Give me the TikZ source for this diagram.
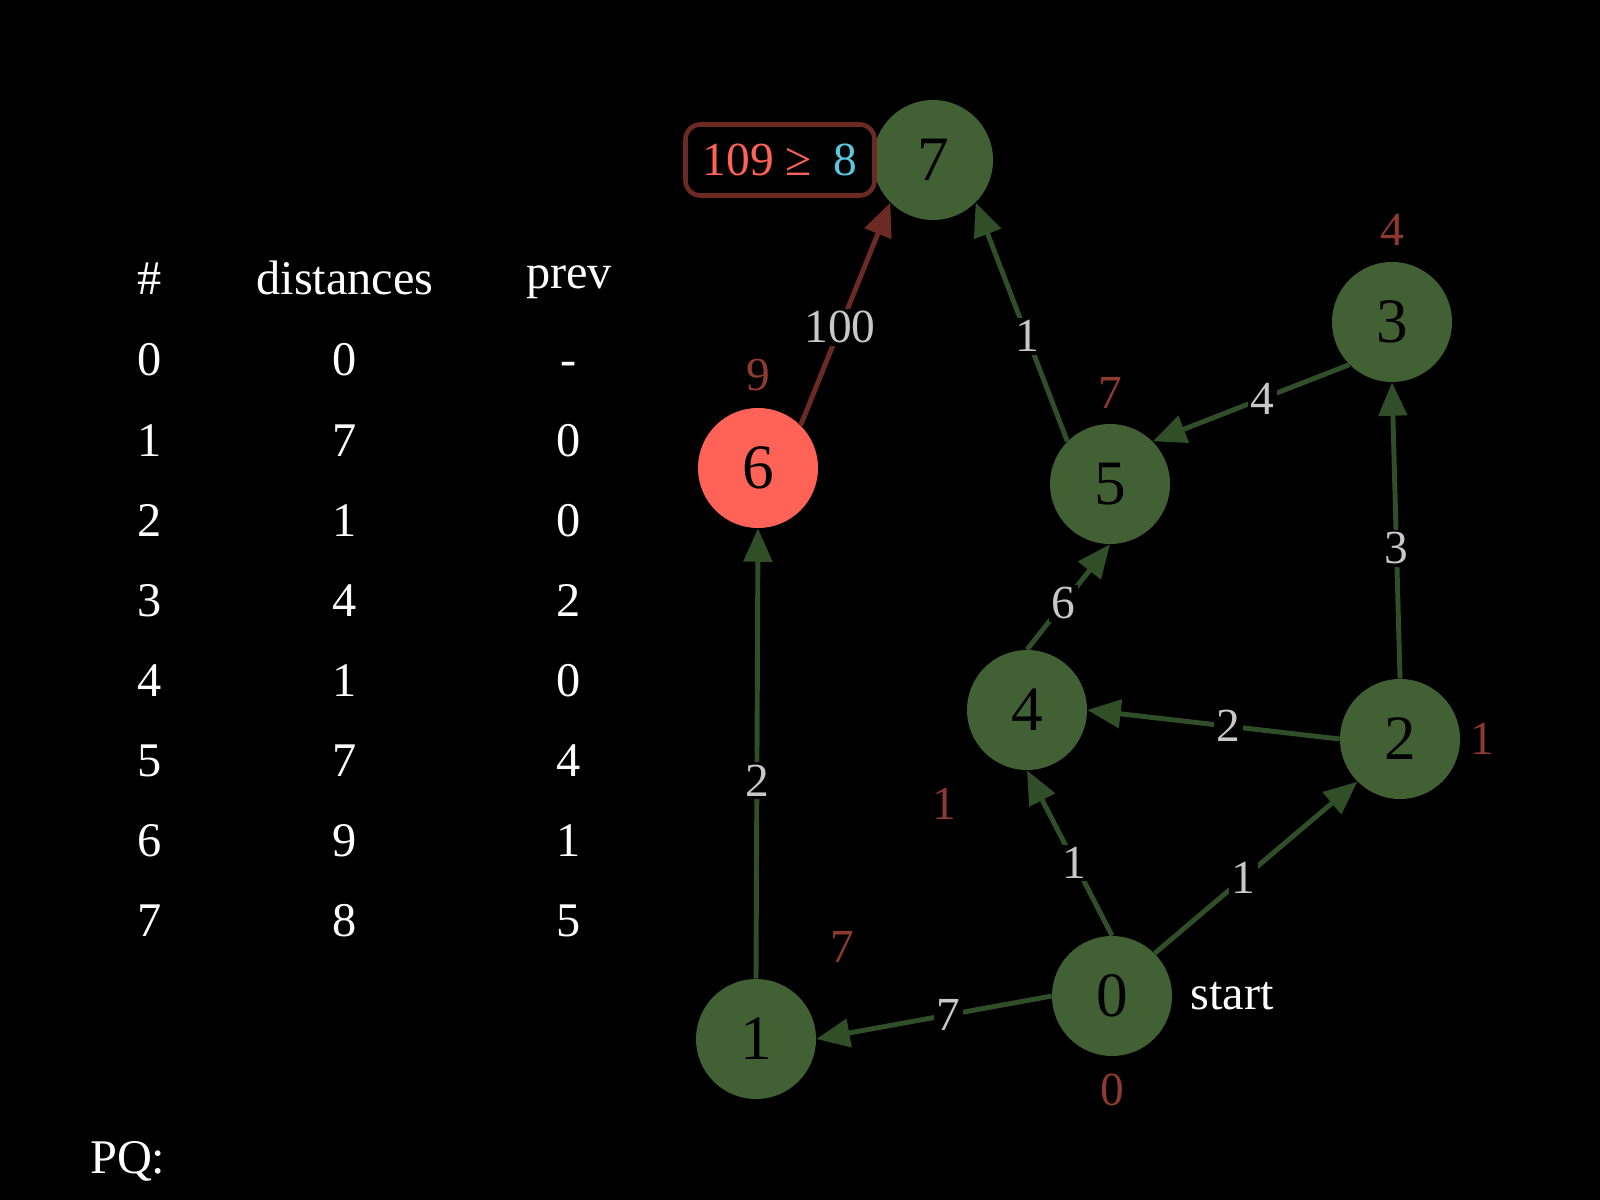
\documentclass[tikz,border=0pt]{standalone}
\usepackage{fontspec}
\setmainfont{Liberation Serif}
\usetikzlibrary{arrows.meta}
\definecolor{nodegreen}{RGB}{65,96,51}
\definecolor{edgegreen}{RGB}{48,78,40}
\definecolor{distred}{RGB}{142,58,48}
\definecolor{pathred}{RGB}{107,42,36}
\definecolor{hotred}{RGB}{255,99,87}
\definecolor{wgray}{RGB}{200,200,200}
\definecolor{newblue}{RGB}{90,200,225}

\begin{document}
\begin{tikzpicture}[x=0.2mm, y=-0.2mm,
    vertex/.style={circle, fill=nodegreen, minimum size=24mm, inner sep=0pt, font=\fontsize{36}{36}\selectfont},
    edge/.style={line width=2.8pt, edgegreen, -{Triangle[length=19pt,width=16pt]}},
    wlabel/.style={fill=black, text=wgray, inner sep=1.5pt, pos=0.44, font=\fontsize{27}{27}\selectfont},
    dist/.style={text=distred, font=\fontsize{27}{27}\selectfont},
    tab/.style={text=white, anchor=base, font=\fontsize{27.5}{27.5}\selectfont}]
    % Background
    \fill[black] (0,0) rectangle (1600,1200);
    \useasboundingbox (0,0) rectangle (1600,1200);

    % Table
    \node[tab] (h-id) at (150,295) {\#};
    \node[tab] (h-d) at (345,295) {distances};
    \node[tab] (h-p) at (569,289) {prev};
    \foreach \i/\d/\p in {0/0/-, 1/7/0, 2/1/0, 3/4/2, 4/1/0, 5/7/4, 6/9/1, 7/8/5} {
        \node[tab] (r\i-id) at (150,376+80*\i) {\i};
        \node[tab] (r\i-d) at (345,376+80*\i) {\d};
        \node[tab] (r\i-p) at (569,376+80*\i) {\p};
    }
    \node[tab, anchor=base west] (pq) at (84,1173) {PQ:};

    % Vertices
    \node[vertex] (n0) at (1112,996) {0};
    \node[vertex] (n1) at (756,1039) {1};
    \node[vertex] (n2) at (1400,739) {2};
    \node[vertex] (n3) at (1392,322) {3};
    \node[vertex] (n4) at (1027,710) {4};
    \node[vertex] (n5) at (1110,484) {5};
    \node[vertex, fill=hotred] (n6) at (758,468) {6};
    \node[vertex] (n7) at (933,160) {7};

    % Distances so far
    \node[dist] (d0) at (1112,1090) {0};
    \node[dist] (d1) at (842,947) {7};
    \node[dist] (d2) at (1482,739) {1};
    \node[dist] (d3) at (1392,230) {4};
    \node[dist] (d4) at (944,804) {1};
    \node[dist] (d5) at (1110,393) {7};
    \node[dist] (d6) at (758,375) {9};
    \node[tab, anchor=center] (startlbl) at (1232,996) {start};

    % Edges
    \draw[edge] (n0.west) -- (n1.east) node[wlabel] {7};
    \draw[edge] (n0.north) -- (n4.south) node[wlabel] {1};
    \draw[edge] (n0.north east) -- (n2.south west) node[wlabel] {1};
    \draw[edge] (n2.west) -- (n4.east) node[wlabel] {2};
    \draw[edge] (n2.north) -- (n3.south) node[wlabel] {3};
    \draw[edge] (n3.south west) -- (n5.north east) node[wlabel] {4};
    \draw[edge] (n4.north) -- (n5.south) node[wlabel] {6};
    \draw[edge] (n5.north west) -- (n7.south east) node[wlabel] {1};
    \draw[edge] (n1.north) -- (n6.south) node[wlabel] {2};
    \draw[edge, pathred] (n6.north east) -- (n7.south west) node[wlabel] {100};

    % Relaxation check
    \node[draw=pathred, line width=2.6pt, rounded corners=3mm, fill=black, minimum width=37.8mm, minimum height=14.2mm,
        font=\fontsize{27}{27}\selectfont] (check) at (780,160)
        {\textcolor{hotred}{109 ≥}\hspace{0.45em}\textcolor{newblue}{8}};
\end{tikzpicture}
\end{document}
